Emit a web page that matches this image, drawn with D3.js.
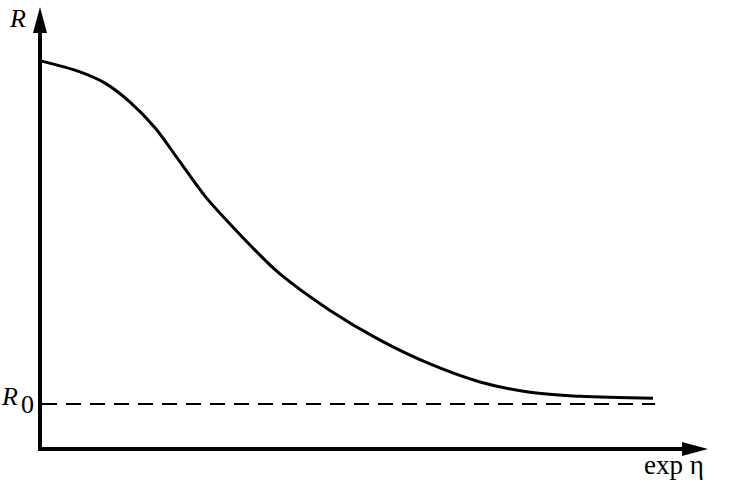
<!DOCTYPE html>
<html>
<head>
<meta charset="utf-8">
<script src="https://cdn.jsdelivr.net/npm/d3@7"></script>
<style>
html,body{margin:0;padding:0;background:#fff;}
svg{display:block;}
</style>
</head>
<body>
<svg id="chart" width="732" height="484"></svg>
<script>
// exp(eta) positions (arbitrary units) and R values (units of R0)
const xValues = [0.3, 6.06, 9.85, 13.64, 17.42, 21.21, 25.0, 28.79, 32.58, 36.36, 43.94, 51.52, 59.09, 66.67, 74.24, 81.82, 92.88];
const rValues = [8.62, 8.38, 8.13, 7.71, 7.14, 6.38, 5.62, 5.00, 4.42, 3.89, 3.08, 2.42, 1.89, 1.49, 1.26, 1.17, 1.13];
const r0 = 1;
const r0LineExtent = [0.3, 93.2];
const xDomain = [0, 100];
const yDomain = [0, 10];
const xLabel = "exp η";
const yLabel = "R";
const r0Label = "R";
const r0Sub = "0";

const svg = d3.select("#chart");
const x = d3.scaleLinear().domain(xDomain).range([40, 700]);
const y = d3.scaleLinear().domain(yDomain).range([449, -1]);

const data = xValues.map((v, i) => ({x: v, r: rValues[i]}));

// axes with arrowheads
const axisX0 = x(0), axisY0 = y(0);
svg.append("line").attr("x1", axisX0).attr("y1", axisY0 + 2).attr("x2", axisX0).attr("y2", 30)
  .attr("stroke", "#000").attr("stroke-width", 4);
svg.append("line").attr("x1", axisX0 - 2).attr("y1", axisY0).attr("x2", 686).attr("y2", axisY0)
  .attr("stroke", "#000").attr("stroke-width", 4);
svg.append("path").attr("d", `M${axisX0},7 L${axisX0 - 7},33 L${axisX0 + 7},33 Z`).attr("fill", "#000");
svg.append("path").attr("d", `M708,${axisY0} L682,${axisY0 - 7} L682,${axisY0 + 7} Z`).attr("fill", "#000");

// R0 dashed line
svg.append("line")
  .attr("x1", x(r0LineExtent[0])).attr("x2", x(r0LineExtent[1]))
  .attr("y1", y(r0)).attr("y2", y(r0))
  .attr("stroke", "#000").attr("stroke-width", 2)
  .attr("stroke-dasharray", "15,9");

// curve
const line = d3.line().x(d => x(d.x)).y(d => y(d.r)).curve(d3.curveCatmullRom.alpha(0.5));
svg.append("path").datum(data).attr("d", line)
  .attr("fill", "none").attr("stroke", "#000").attr("stroke-width", 3);

// labels
const serif = "'Liberation Serif', 'Times New Roman', serif";
svg.append("text").attr("x", 10).attr("y", 27).style("font-family", serif)
  .attr("font-style", "italic").attr("font-size", 26).text(yLabel);
const r0t = svg.append("text").attr("x", 2).attr("y", y(r0) + 1).style("font-family", serif).attr("font-size", 26);
r0t.append("tspan").attr("font-style", "italic").text(r0Label);
r0t.append("tspan").attr("dx", 3).attr("dy", 8).text(r0Sub);
svg.append("text").attr("x", 644).attr("y", 474).style("font-family", serif)
  .attr("font-size", 27).text(xLabel);
</script>
</body>
</html>
